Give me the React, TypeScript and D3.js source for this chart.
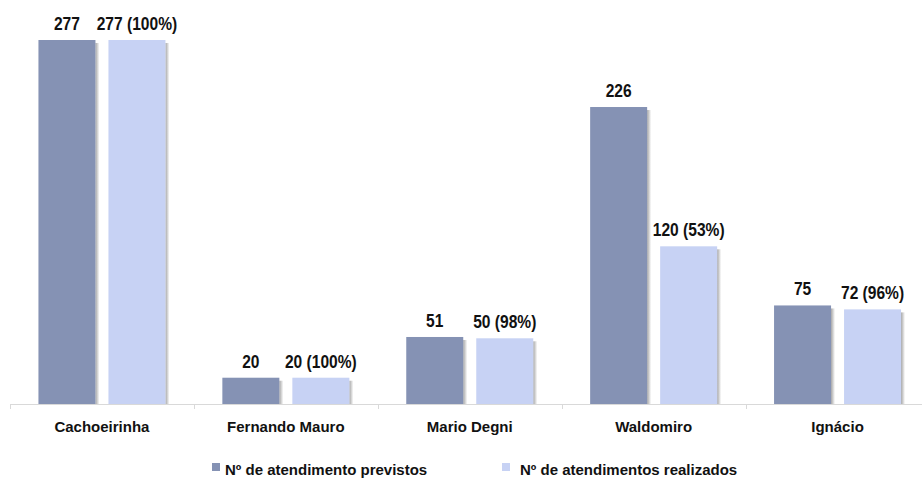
import React from "react";
import * as d3 from "d3";

const categories = ["Cachoeirinha", "Fernando Mauro", "Mario Degni", "Waldomiro", "Ignácio"];
const previstos = [277, 20, 51, 226, 75];
const realizados = [277, 20, 50, 120, 72];
const realizadosPct = ["100%", "100%", "98%", "53%", "96%"];
const seriesNames = ["Nº de atendimento previstos", "Nº de atendimentos realizados"];
const colors = ["#8592B4", "#C7D2F4"];

const W = 922;
const H = 484;
const baseY = 404;
const topY = 40;

export default function App() {
  const x0 = d3.scaleBand<string>().domain(categories).range([10, 929.5]).paddingInner(0).paddingOuter(0);
  const y = d3.scaleLinear().domain([0, 277]).range([baseY, topY]);
  const barW = 57;
  const gap = 13;
  const sans = "'Liberation Sans', Arial, sans-serif";

  const valueLabel = (x: number, yy: number, s: string) => (
    <text
      transform={`translate(${x},${yy}) scale(0.82,1)`}
      textAnchor="middle"
      fontFamily={sans}
      fontWeight="bold"
      fontSize={19}
      fill="#111"
    >
      {s}
    </text>
  );

  return (
    <svg width={W} height={H} style={{ position: "absolute", left: 0, top: 0, background: "#fff" }}>
      <defs>
        <linearGradient id="sh" x1="0" x2="1" y1="0" y2="0">
          <stop offset="0" stopColor="#000" stopOpacity="0.35" />
          <stop offset="1" stopColor="#000" stopOpacity="0" />
        </linearGradient>
      </defs>
      {categories.map((c, i) => {
        const cx = (x0(c) as number) + x0.bandwidth() / 2;
        const xa = cx - gap / 2 - barW;
        const xb = cx + gap / 2;
        const ya = y(previstos[i]);
        const yb = y(realizados[i]);
        return (
          <g key={c}>
            <rect x={xa + barW} y={ya + 3} width={4} height={baseY - ya - 3} fill="url(#sh)" />
            <rect x={xb + barW} y={yb + 3} width={4} height={baseY - yb - 3} fill="url(#sh)" />
            <rect x={xa} y={ya} width={barW} height={baseY - ya} fill={colors[0]} />
            <rect x={xb} y={yb} width={barW} height={baseY - yb} fill={colors[1]} />
            {valueLabel(xa + barW / 2, ya - 10, `${previstos[i]}`)}
            {valueLabel(xb + barW / 2, yb - 10, `${realizados[i]} (${realizadosPct[i]})`)}
            <text x={cx} y={432} textAnchor="middle" fontFamily={sans} fontWeight="bold" fontSize={15} fill="#111">
              {c}
            </text>
          </g>
        );
      })}
      <line x1={10} x2={W} y1={baseY + 0.5} y2={baseY + 0.5} stroke="#D9D9D9" strokeWidth={1} />
      {d3.range(categories.length + 1).map((k) => {
        const xt = Math.round(10 + k * x0.bandwidth()) + 0.5;
        return <line key={k} x1={xt} x2={xt} y1={baseY} y2={baseY + 5} stroke="#D9D9D9" strokeWidth={1} />;
      })}
      <g fontFamily={sans} fontWeight="bold" fontSize={15} fill="#111">
        <rect x={212} y={463} width={8} height={8} fill={colors[0]} />
        <text x={225} y={475}>{seriesNames[0]}</text>
        <rect x={502} y={463} width={8} height={8} fill={colors[1]} />
        <text x={520} y={475}>{seriesNames[1]}</text>
      </g>
    </svg>
  );
}
